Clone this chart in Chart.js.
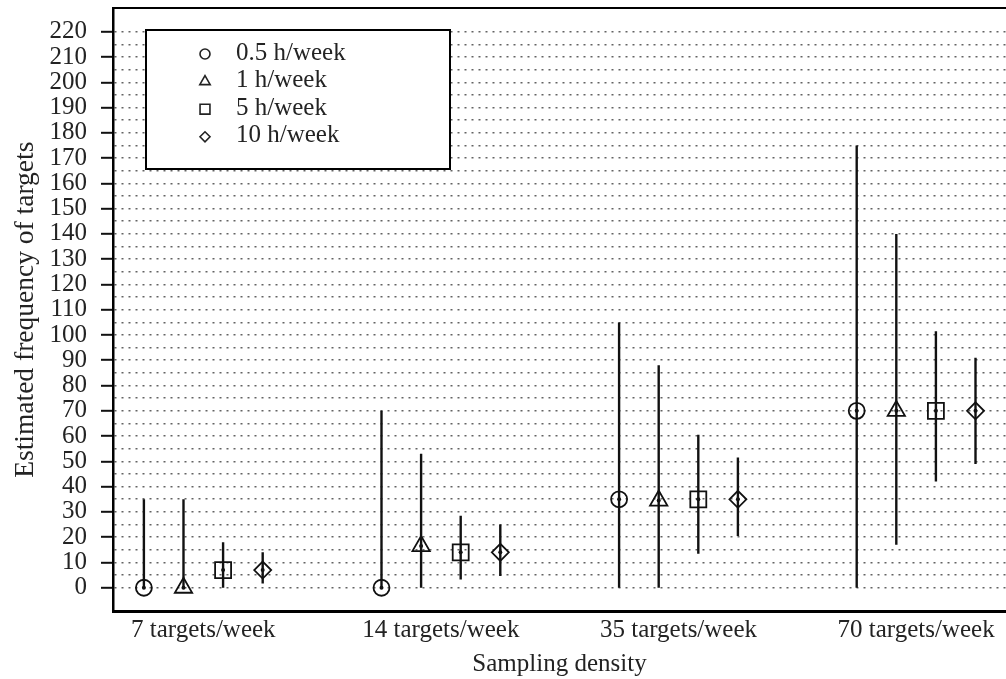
<!DOCTYPE html>
<html>
<head>
<meta charset="utf-8">
<script src="https://cdn.jsdelivr.net/npm/chart.js@4.4.1/dist/chart.umd.min.js"></script>
<style>
html,body{margin:0;padding:0;background:#fff;}
#wrap{width:1006px;height:679px;}
</style>
</head>
<body>
<div id="wrap"><canvas id="c" width="1006" height="679"></canvas></div>
<script>
// ---------- data ----------
const categories = ['7 targets/week', '14 targets/week', '35 targets/week', '70 targets/week'];
const seriesLabels = ['0.5 h/week', '1 h/week', '5 h/week', '10 h/week'];

const center05 = [0, 0, 35, 70];
const low05    = [0, 0, 0, 0];
const high05   = [35, 70, 105, 175];

const center1  = [0, 16.5, 34.5, 70];
const low1     = [0, 0, 0, 17];
const high1    = [35, 53, 88, 140];

const center5  = [7, 14, 35, 70];
const low5     = [0, 3.3, 13.5, 42];
const high5    = [18, 28.5, 60.5, 101.5];

const center10 = [7, 14, 35, 70];
const low10    = [1.7, 4.6, 20.5, 49];
const high10   = [14, 25, 51.5, 91];

const yTickValues = [0, 5, 10, 15, 20, 25, 30, 35, 40, 45, 50, 55, 60, 65, 70, 75, 80, 85, 90, 95,
  100, 105, 110, 115, 120, 125, 130, 135, 140, 145, 150, 155, 160, 165, 170, 175, 180, 185, 190, 195,
  200, 205, 210, 215, 220];

// ---------- build ----------
const SERIF = '"Liberation Serif", "Times New Roman", Times, serif';
const INK = '#111';
const TEXT = '#232323';
const GROUP_STEP = 6;
const xOf = (i, j) => i * GROUP_STEP + j;
const groupCenters = categories.map((_, i) => xOf(i, 1.5));

const series = [
  {label: seriesLabels[0], center: center05, low: low05, high: high05, style: 'circle', r: 8},
  {label: seriesLabels[1], center: center1, low: low1, high: high1, style: 'triangle', r: 10},
  {label: seriesLabels[2], center: center5, low: low5, high: high5, style: 'rect', r: 11.3},
  {label: seriesLabels[3], center: center10, low: low10, high: high10, style: 'rectRot', r: 8.5}
];

const datasets = [];
series.forEach((s, j) => {
  const pts = [];
  categories.forEach((_, i) => {
    pts.push({x: xOf(i, j), y: s.low[i]});
    pts.push({x: xOf(i, j), y: s.high[i]});
    pts.push({x: xOf(i, j), y: null});
  });
  datasets.push({
    label: s.label + ' range', data: pts, showLine: true, spanGaps: false,
    borderColor: INK, borderWidth: 2.4, pointRadius: 0, isErr: true, order: 2
  });
});
series.forEach((s, j) => {
  datasets.push({
    label: s.label,
    data: categories.map((_, i) => ({x: xOf(i, j), y: s.center[i]})),
    pointStyle: s.style, pointRadius: s.r, pointBorderWidth: 1.8,
    pointBorderColor: INK, pointBackgroundColor: 'rgba(0,0,0,0)',
    showLine: false, isMarker: true, order: 1
  });
});

function drawMarker(ctx, style, x, y, r) {
  ctx.beginPath();
  if (style === 'circle') {
    ctx.arc(x, y, r, 0, Math.PI * 2);
  } else if (style === 'triangle') {
    const w = r * Math.sqrt(3) / 2;
    ctx.moveTo(x, y - r); ctx.lineTo(x + w, y + r / 2); ctx.lineTo(x - w, y + r / 2); ctx.closePath();
  } else if (style === 'rect') {
    const h = r * Math.SQRT1_2;
    ctx.rect(x - h, y - h, 2 * h, 2 * h);
  } else {
    ctx.moveTo(x - r, y); ctx.lineTo(x, y - r); ctx.lineTo(x + r, y); ctx.lineTo(x, y + r); ctx.closePath();
  }
  ctx.stroke();
}

const framePlugin = {
  id: 'frame',
  afterDraw(chart) {
    const {ctx, chartArea: a} = chart;
    ctx.save();
    ctx.strokeStyle = '#000';
    ctx.lineWidth = 2;
    ctx.beginPath();
    ctx.moveTo(a.left, a.top);
    ctx.lineTo(a.right, a.top);
    ctx.stroke();
    ctx.restore();
  }
};

const dotsPlugin = {
  id: 'dots',
  afterDatasetsDraw(chart) {
    const ctx = chart.ctx;
    ctx.save();
    ctx.fillStyle = INK;
    chart.data.datasets.forEach((ds, k) => {
      if (!ds.isMarker) return;
      chart.getDatasetMeta(k).data.forEach(el => {
        ctx.beginPath();
        ctx.arc(el.x, el.y, 2, 0, Math.PI * 2);
        ctx.fill();
      });
    });
    ctx.restore();
  }
};

const legendPlugin = {
  id: 'boxLegend',
  afterDraw(chart) {
    const {ctx, chartArea: a} = chart;
    const bx = a.left + 33, by = a.top + 22, bw = 304, bh = 139;
    ctx.save();
    ctx.fillStyle = '#fff';
    ctx.fillRect(bx, by, bw, bh);
    ctx.strokeStyle = '#000';
    ctx.lineWidth = 2;
    ctx.strokeRect(bx, by, bw, bh);
    ctx.font = '25px ' + SERIF;
    ctx.textBaseline = 'middle';
    ctx.textAlign = 'left';
    series.forEach((s, k) => {
      const y = by + 23 + 27.6 * k;
      ctx.strokeStyle = '#222';
      ctx.lineWidth = 1.6;
      drawMarker(ctx, s.style, bx + 59, y + 1, s.style === 'rect' ? 7 : (s.style === 'triangle' ? 6 : 5));
      ctx.fillStyle = TEXT;
      ctx.fillText(s.label, bx + 90, y);
    });
    ctx.restore();
  }
};

new Chart(document.getElementById('c'), {
  type: 'scatter',
  data: {datasets},
  options: {
    responsive: false,
    animation: false,
    layout: {autoPadding: false, padding: {top: 8, right: 0, bottom: 0, left: 0}},
    plugins: {legend: {display: false}, tooltip: {enabled: false}},
    scales: {
      x: {
        type: 'linear',
        min: -0.78,
        max: 21.77,
        afterBuildTicks: s => { s.ticks = groupCenters.map(v => ({value: v})); },
        afterFit: s => { s.height = 67.5; s.paddingLeft = 0; s.paddingRight = 0; },
        grid: {display: false, drawTicks: false},
        border: {display: true, color: '#000', width: 3},
        ticks: {
          autoSkip: false, maxRotation: 0, padding: 4, color: TEXT,
          font: {family: SERIF, size: 25},
          callback: (v, i) => categories[i]
        },
        title: {display: true, text: 'Sampling density', color: TEXT,
          font: {family: SERIF, size: 25}, padding: {top: 0, bottom: 0}}
      },
      y: {
        type: 'linear',
        min: -9.4,
        max: 229.4,
        afterBuildTicks: s => { s.ticks = yTickValues.map(v => ({value: v})); },
        afterFit: s => { s.width = 113; s.paddingTop = 0; s.paddingBottom = 0; },
        grid: {
          color: 'rgba(60,60,60,0.8)', lineWidth: 1.6,
          drawTicks: true, tickLength: 12, tickWidth: 2,
          tickColor: c => (c.tick && c.tick.value % 10 === 0) ? '#111' : 'rgba(0,0,0,0)'
        },
        border: {display: true, color: '#000', width: 2.5, dash: [2, 5]},
        ticks: {
          autoSkip: false, padding: 14, color: TEXT, font: {family: SERIF, size: 25},
          callback: v => (v % 10 === 0 ? String(v) : '')
        },
        title: {display: true, text: 'Estimated frequency of targets', color: TEXT,
          font: {family: SERIF, size: 27.5}, padding: {top: 9, bottom: 0}}
      }
    }
  },
  plugins: [framePlugin, dotsPlugin, legendPlugin]
});
</script>
</body>
</html>
